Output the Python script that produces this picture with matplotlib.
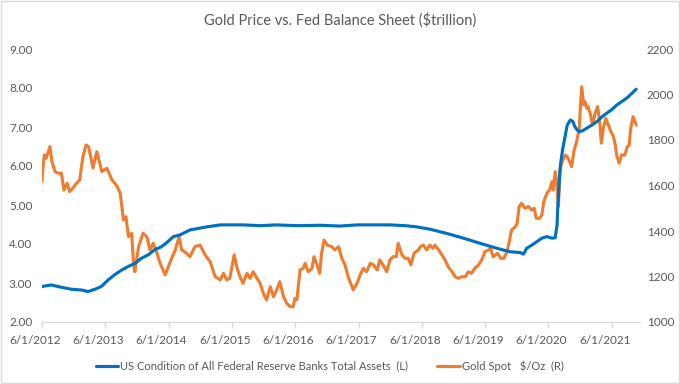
import matplotlib
matplotlib.use("Agg")
import matplotlib.pyplot as plt
import matplotlib.transforms as mtransforms
from matplotlib.patches import Rectangle

plt.rcParams["font.family"] = ["Lato", "DejaVu Sans"]

# Fed total assets, $trillion (left axis); x in decimal years
fed_t = [2012.41, 2012.56, 2012.72, 2012.88, 2013.04, 2013.14, 2013.25, 2013.35,
         2013.46, 2013.56, 2013.67, 2013.77, 2013.88, 2013.98, 2014.09, 2014.19,
         2014.30, 2014.38, 2014.49, 2014.59, 2014.75, 2015.02, 2015.23, 2015.59,
         2015.86, 2016.12, 2016.44, 2016.81, 2017.12, 2017.39, 2017.60, 2017.91,
         2018.15, 2018.33, 2018.54, 2018.81, 2019.07, 2019.33, 2019.60, 2019.81,
         2019.97, 2020.02, 2020.07, 2020.15, 2020.23, 2020.31, 2020.39, 2020.47,
         2020.52, 2020.55, 2020.56, 2020.59, 2020.61, 2020.64, 2020.68, 2020.71,
         2020.76, 2020.80, 2020.83, 2020.87, 2020.91, 2020.97, 2021.02, 2021.10,
         2021.18, 2021.26, 2021.33, 2021.41, 2021.49, 2021.57, 2021.65, 2021.73,
         2021.80]
fed_val = [2.91, 2.95, 2.89, 2.84, 2.82, 2.78, 2.84, 2.91,
           3.08, 3.21, 3.33, 3.42, 3.50, 3.63, 3.72, 3.85,
           3.93, 4.03, 4.19, 4.23, 4.36, 4.44, 4.49, 4.49,
           4.47, 4.49, 4.47, 4.48, 4.46, 4.49, 4.49, 4.49,
           4.47, 4.44, 4.38, 4.27, 4.15, 4.02, 3.89, 3.80,
           3.78, 3.74, 3.89, 3.97, 4.06, 4.15, 4.19, 4.15,
           4.16, 4.49, 4.92, 5.77, 6.11, 6.45, 6.79, 7.05,
           7.18, 7.14, 7.01, 6.92, 6.88, 6.92, 6.97, 7.05,
           7.14, 7.26, 7.35, 7.44, 7.56, 7.65, 7.74, 7.86,
           7.97]

# Gold spot, $/oz (right axis)
gold_t = [2012.41, 2012.45, 2012.48, 2012.54, 2012.57, 2012.62, 2012.67, 2012.72,
          2012.76, 2012.81, 2012.85, 2012.90, 2012.96, 2013.01, 2013.06, 2013.11,
          2013.15, 2013.22, 2013.28, 2013.36, 2013.44, 2013.52, 2013.59, 2013.65,
          2013.70, 2013.74, 2013.78, 2013.83, 2013.86, 2013.88, 2013.94, 2014.01,
          2014.07, 2014.12, 2014.17, 2014.23, 2014.28, 2014.36, 2014.44, 2014.52,
          2014.58, 2014.62, 2014.70, 2014.75, 2014.83, 2014.91, 2014.99, 2015.07,
          2015.15, 2015.23, 2015.28, 2015.33, 2015.38, 2015.45, 2015.49, 2015.54,
          2015.59, 2015.65, 2015.70, 2015.75, 2015.81, 2015.86, 2015.91, 2015.96,
          2016.02, 2016.07, 2016.12, 2016.17, 2016.23, 2016.28, 2016.33, 2016.38,
          2016.41, 2016.44, 2016.49, 2016.54, 2016.57, 2016.62, 2016.68, 2016.71,
          2016.75, 2016.80, 2016.83, 2016.87, 2016.92, 2016.99, 2017.04, 2017.10,
          2017.15, 2017.20, 2017.25, 2017.33, 2017.39, 2017.44, 2017.49, 2017.54,
          2017.60, 2017.65, 2017.71, 2017.75, 2017.80, 2017.86, 2017.91, 2017.96,
          2018.01, 2018.04, 2018.10, 2018.15, 2018.20, 2018.24, 2018.29, 2018.36,
          2018.39, 2018.44, 2018.49, 2018.54, 2018.59, 2018.62, 2018.68, 2018.73,
          2018.78, 2018.83, 2018.89, 2018.94, 2018.99, 2019.04, 2019.10, 2019.15,
          2019.20, 2019.25, 2019.31, 2019.36, 2019.41, 2019.47, 2019.50, 2019.54,
          2019.61, 2019.66, 2019.71, 2019.76, 2019.80, 2019.83, 2019.89, 2019.92,
          2019.95, 2019.99, 2020.04, 2020.10, 2020.15, 2020.19, 2020.22, 2020.27,
          2020.31, 2020.34, 2020.39, 2020.43, 2020.47, 2020.49, 2020.52, 2020.55,
          2020.57, 2020.60, 2020.64, 2020.68, 2020.71, 2020.76, 2020.78, 2020.82,
          2020.86, 2020.90, 2020.92, 2020.94, 2020.97, 2020.99, 2021.02, 2021.04,
          2021.08, 2021.11, 2021.15, 2021.19, 2021.22, 2021.25, 2021.28, 2021.32,
          2021.36, 2021.40, 2021.44, 2021.47, 2021.49, 2021.53, 2021.57, 2021.62,
          2021.66, 2021.69, 2021.71, 2021.75, 2021.77, 2021.80]
gold_val = [1617, 1734, 1720, 1771, 1705, 1661, 1654, 1654,
            1580, 1610, 1573, 1588, 1610, 1624, 1727, 1778,
            1771, 1677, 1749, 1661, 1676, 1624, 1602, 1566,
            1448, 1463, 1375, 1390, 1258, 1221, 1331, 1390,
            1375, 1317, 1346, 1302, 1258, 1207, 1265, 1317,
            1375, 1317, 1302, 1287, 1331, 1338, 1295, 1265,
            1199, 1185, 1214, 1185, 1192, 1295, 1243, 1199,
            1170, 1214, 1192, 1221, 1192, 1170, 1126, 1097,
            1155, 1111, 1141, 1177, 1111, 1082, 1068, 1067,
            1104, 1097, 1229, 1236, 1258, 1221, 1236, 1287,
            1258, 1214, 1302, 1360, 1338, 1331, 1317, 1331,
            1280, 1251, 1199, 1141, 1170, 1207, 1236, 1221,
            1258, 1251, 1229, 1273, 1251, 1221, 1273, 1287,
            1287, 1346, 1295, 1280, 1280, 1251, 1302, 1317,
            1331, 1338, 1317, 1338, 1324, 1338, 1317, 1295,
            1273, 1243, 1221, 1199, 1192, 1199, 1199, 1221,
            1214, 1236, 1251, 1273, 1309, 1317, 1324, 1287,
            1302, 1280, 1280, 1309, 1360, 1404, 1419, 1434,
            1507, 1522, 1500, 1507, 1492, 1500, 1456, 1456,
            1470, 1529, 1566, 1580, 1617, 1580, 1661, 1602,
            1507, 1676, 1712, 1734, 1727, 1698, 1683, 1756,
            1793, 1851, 1954, 2034, 1954, 1969, 1939, 1947,
            1910, 1866, 1917, 1947, 1888, 1786, 1851, 1895,
            1866, 1837, 1815, 1778, 1734, 1698, 1734, 1734,
            1771, 1778, 1844, 1903, 1888, 1866]

tick_years = list(range(2012, 2022))
tick_labels = [f"6/1/{y}" for y in tick_years]

BLUE = "#0070C0"
ORANGE = "#ED7D31"
GRAY = "#595959"

fig = plt.figure(figsize=(6.8, 3.84), dpi=100)
fig.patches.append(Rectangle((0.0015, 0.002), 0.997, 0.995, transform=fig.transFigure,
                             fill=False, edgecolor="#D9D9D9", linewidth=1))

ax = fig.add_axes([42 / 680, 1 - 322 / 384, 598 / 680, 273 / 384])
ax2 = ax.twinx()

l1, = ax.plot(fed_t, fed_val, color=BLUE, linewidth=2.25, solid_capstyle="round",
              label="US Condition of All Federal Reserve Banks Total Assets  (L)", zorder=3)
l2, = ax2.plot(gold_t, gold_val, color=ORANGE, linewidth=2.25, solid_capstyle="round",
               label="Gold Spot   $/Oz  (R)")
ax.set_zorder(ax2.get_zorder() + 1)
ax.patch.set_visible(False)

ax.set_xlim(2012.414, 2021.86)
ax.set_ylim(2, 9)
ax2.set_ylim(1000, 2200)
ax.set_yticks(range(2, 10))
ax.set_yticklabels([f"{v:.2f}" for v in range(2, 10)])
ax2.set_yticks(range(1000, 2201, 200))

ax.set_xticks([y + 0.414 for y in tick_years])
ax.set_xticklabels(tick_labels)

for a in (ax, ax2):
    for s in a.spines.values():
        s.set_visible(False)
ax.spines["bottom"].set_visible(True)
ax.spines["bottom"].set_color("#D9D9D9")
ax.tick_params(axis="x", colors="#D9D9D9", length=4, width=1, labelcolor=GRAY,
               labelsize=8.5, pad=5)
ax.tick_params(axis="y", length=0, labelcolor=GRAY, labelsize=8.5, pad=7)
ax2.tick_params(axis="y", length=0, labelcolor=GRAY, labelsize=8.5, pad=5)

offset = mtransforms.ScaledTranslation(-7 / 100, 0, fig.dpi_scale_trans)
for lab in ax.get_xticklabels():
    lab.set_transform(lab.get_transform() + offset)

fig.text(0.5, 1 - 20 / 384, "Gold Price vs. Fed Balance Sheet ($trillion)",
         ha="center", va="center", fontsize=10.5, color=GRAY)

fig.legend(handles=[l1, l2], loc="center", bbox_to_anchor=(0.485, 1 - 366 / 384),
           ncol=2, frameon=False, fontsize=8, handlelength=2.0, columnspacing=2.6,
           handletextpad=0.2, labelcolor=GRAY)

fig.savefig("out.png", dpi=100)
